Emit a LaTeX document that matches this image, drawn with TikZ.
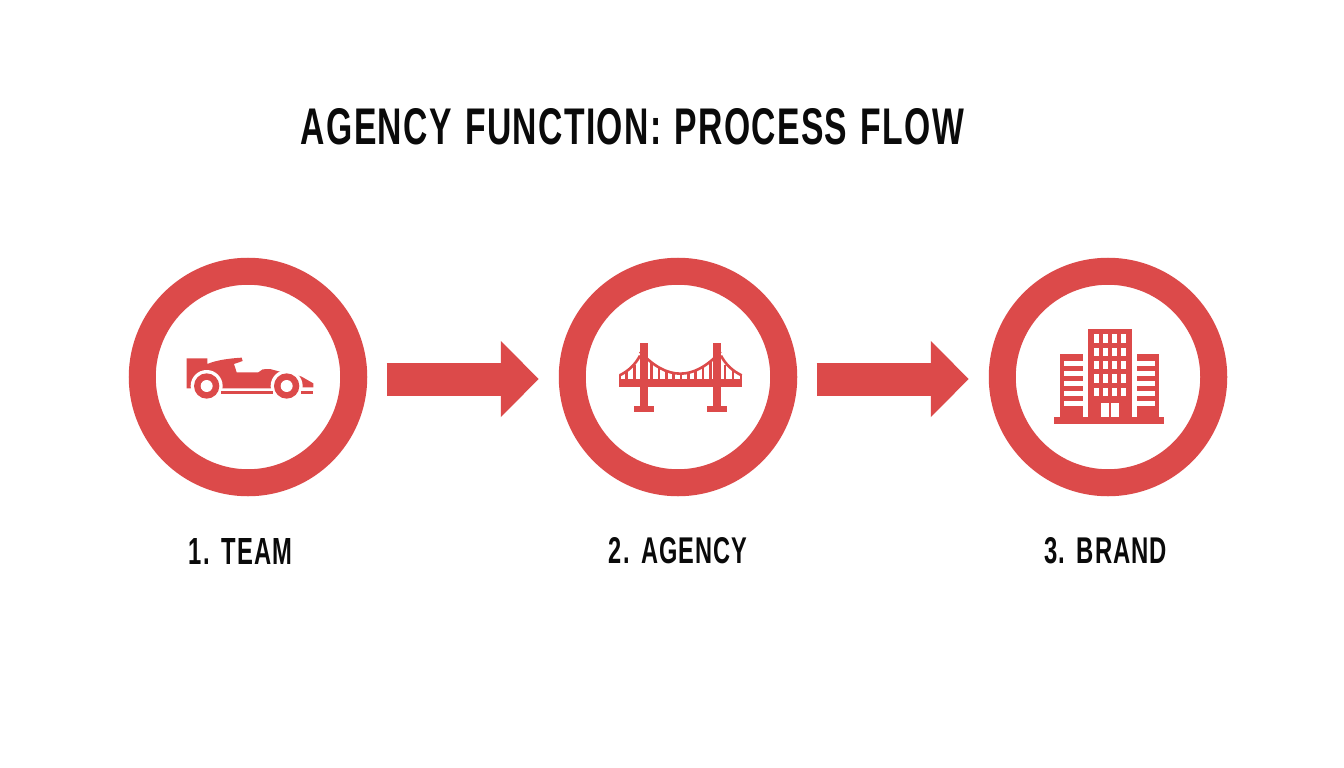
\documentclass[tikz,border=0pt]{standalone}
\usepackage{fontspec}
\setmainfont{Liberation Sans}[LetterSpace=4,WordSpace=1.25]
\usetikzlibrary{arrows.meta}
\definecolor{brandred}{HTML}{DC4A4A}
\definecolor{inkblack}{HTML}{0A0A0A}
\tikzset{
  ring/.style={circle,draw=brandred,line width=27pt,fill=white,minimum size=211.5pt,inner sep=0pt},
  flowarrow/.style={draw=brandred,line width=33pt,shorten <=19.25pt,shorten >=20pt,
    -{Triangle[length=38pt,width=74pt,color=brandred]}},
  steplabel/.style={text=inkblack,font=\bfseries,inner sep=0pt},
  titletext/.style={text=inkblack,font=\bfseries,inner sep=0pt},
  icon/.style={fill=brandred,draw=none},
  hole/.style={fill=white,draw=none},
  hanger/.style={draw=brandred,line width=2.4pt},
  cable/.style={draw=brandred,line width=2.6pt}
}
\begin{document}
\begin{tikzpicture}[x=1pt,y=-1pt]
\useasboundingbox (0,0) rectangle (1344,768);
\fill[white] (0,0) rectangle (1344,768);
\node[titletext] (title) at (632.5,127) {\resizebox{663pt}{36pt}{AGENCY FUNCTION: PROCESS FLOW}};
\node[ring] (c1) at (248,377) {};
\node[ring] (c2) at (678,377) {};
\node[ring] (c3) at (1108,377) {};
\draw[flowarrow,transform canvas={yshift=-2pt}] (c1.east) -- (c2.west);
\draw[flowarrow,transform canvas={yshift=-2pt}] (c2.east) -- (c3.west);
\node[steplabel] (l1) at (240.5,551) {\resizebox{103pt}{26pt}{1. TEAM}};
\node[steplabel] (l2) at (678,551) {\resizebox{138pt}{26pt}{2. AGENCY}};
\node[steplabel] (l3) at (1105.5,551) {\resizebox{123pt}{26pt}{3. BRAND}};
% race car
\begin{scope}[shift={(170,340)},x=0.3333pt,y=-0.3333pt]
\fill[icon] (50,55) -- (112,55) -- (112,72) .. controls (140,60) and (180,55) .. (215,53)
  -- (218,63) -- (192,72) -- (200,97) -- (265,97) -- (278,88) -- (300,87) -- (330,95)
  -- (350,95) -- (395,110) -- (430,130) -- (430,142) -- (395,142) -- (380,145)
  -- (65,145) -- (50,145) -- cycle;
\fill[hole] (110,138) circle (48);
\fill[hole] (350,138) circle (48);
\fill[icon] (110,138) circle (38);
\fill[icon] (350,138) circle (38);
\fill[hole] (110,138) circle (18);
\fill[hole] (350,138) circle (18);
\fill[icon] (153,153) rectangle (310,162);
\fill[icon] (393,153) rectangle (430,162);
\end{scope}
% bridge
\begin{scope}[shift={(605,335)},x=0.3333pt,y=-0.3333pt]
\foreach \hx in {140,162,184,206,228,250,272,294,316}{
  \pgfmathsetmacro{\hy}{116-0.0045*(\hx-226)*(\hx-226)}
  \draw[hanger] (\hx,\hy) -- (\hx,140);
}
\foreach \hx/\hy in {65/107,88/90,360/90,384/107}{
  \draw[hanger] (\hx,\hy) -- (\hx,140);
}
\draw[cable] (105,50) .. controls (186,138) and (266,138) .. (347,50);
\draw[cable] (105,62) .. controls (90,90) and (70,108) .. (44,121);
\draw[cable] (348,62) .. controls (363,90) and (383,108) .. (410,121);
\fill[icon] (43,121) rectangle (48,140);
\fill[icon] (406,121) rectangle (411,140);
\fill[icon] (43,133) rectangle (411,155);
\fill[icon] (105,25) rectangle (128,215);
\fill[icon] (325,25) rectangle (348,215);
\fill[icon] (87,212) rectangle (147,230);
\fill[icon] (306,212) rectangle (365,230);
\end{scope}
% building
\begin{scope}[shift={(1045,320)},x=0.3333pt,y=-0.3333pt]
\fill[icon] (128,27) rectangle (262,295);
\fill[icon] (45,103) rectangle (115,295);
\fill[icon] (275,103) rectangle (342,295);
\fill[icon] (28,291) rectangle (358,312);
\foreach \wy in {43,83,123,163,203}{
  \foreach \wx in {146,173,200,227}{
    \fill[hole] (\wx,\wy) rectangle ++(16,25);
  }
}
\fill[hole] (167,250) rectangle (192,291);
\fill[hole] (197,250) rectangle (222,291);
\foreach \sy in {122,152,182,212,242}{
  \fill[hole] (58,\sy) rectangle (115,\sy+15);
  \fill[hole] (275,\sy) rectangle (329,\sy+15);
}
\end{scope}
\end{tikzpicture}
\end{document}
